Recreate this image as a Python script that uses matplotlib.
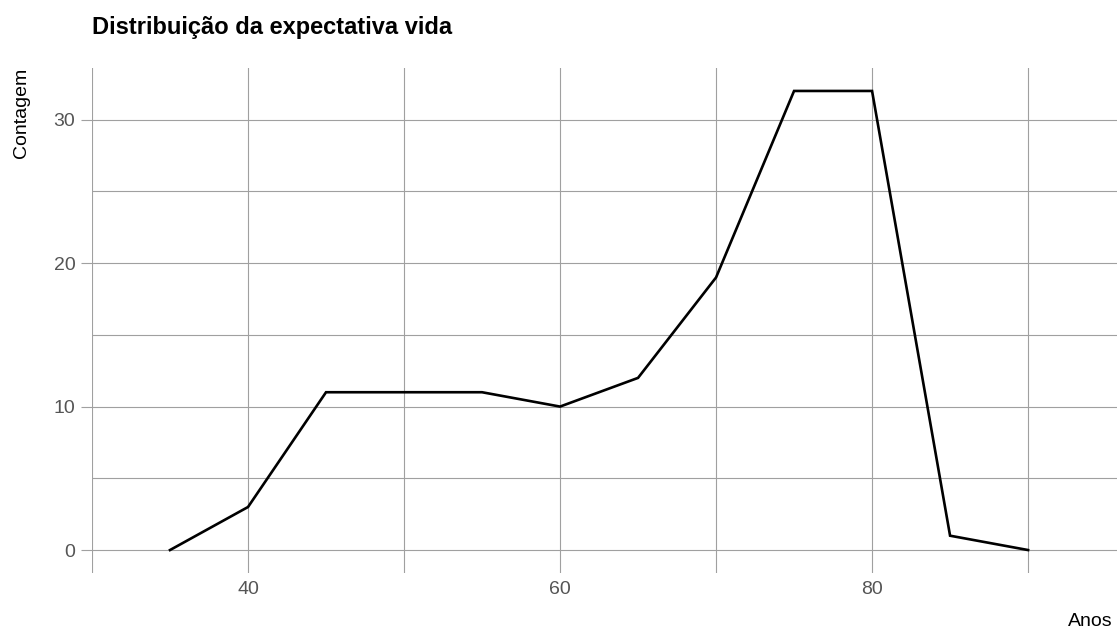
import matplotlib.pyplot as plt
import matplotlib.font_manager as fm
from matplotlib.ticker import MultipleLocator

# dados (polígono de frequência, bins de 5 anos)
anos = [35, 40, 45, 50, 55, 60, 65, 70, 75, 80, 85, 90]
contagem = [0, 3, 11, 11, 11, 10, 12, 19, 32, 32, 1, 0]

titulo = "Distribuição da expectativa vida"
rotulo_x = "Anos"
rotulo_y = "Contagem"

nomes = {f.name for f in fm.fontManager.ttflist}
fonte = "Liberation Sans Narrow" if "Liberation Sans Narrow" in nomes else "Liberation Sans"
plt.rcParams["font.family"] = [fonte, "DejaVu Sans"]

cinza = "#a0a0a0"

fig = plt.figure(figsize=(11.17, 6.35), dpi=100)
ax = fig.add_axes([92 / 1117, 1 - 573 / 635, 1 - 92 / 1117, (573 - 68) / 635])

ax.plot(anos, contagem, color="black", lw=1.9, solid_joinstyle="miter", zorder=3)

ax.set_xlim(30, 95.7)
ax.set_ylim(-1.6, 33.6)

ax.xaxis.set_major_locator(MultipleLocator(20))
ax.xaxis.set_minor_locator(MultipleLocator(10))
ax.yaxis.set_major_locator(MultipleLocator(10))
ax.yaxis.set_minor_locator(MultipleLocator(5))

ax.grid(which="both", color=cinza, lw=0.8)
for s in ax.spines.values():
    s.set_visible(False)

ax.tick_params(axis="x", which="both", length=0, labelsize=14, labelcolor="#555555", pad=6)
ax.tick_params(axis="y", which="major", length=8, width=0.8, color=cinza,
               labelsize=14, labelcolor="#555555", pad=4)
ax.tick_params(axis="y", which="minor", length=0)

fig.text(92 / 1117, 1 - 34 / 635, titulo, fontsize=17, fontweight="bold", ha="left", va="baseline")
fig.text(1113 / 1117, 1 - 621 / 635, rotulo_x, fontsize=14, ha="right", va="center")
fig.text(22 / 1117, 1 - 68 / 635, rotulo_y, fontsize=14, rotation=90, ha="center", va="top")

fig.savefig("out.png", dpi=100)
